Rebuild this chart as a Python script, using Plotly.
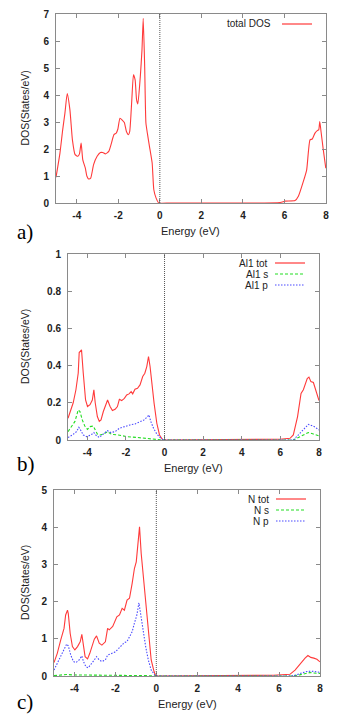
import plotly.graph_objects as go

W, H = 355, 721

# ---------------- data ----------------
x_tick_vals = [-4, -2, 0, 2, 4, 6, 8]
x_tick_text = ["-4", "-2", "0", "2", "4", "6", "8"]
y_ticks_a = [0, 1, 2, 3, 4, 5, 6, 7]
y_ticks_b = [0, 0.2, 0.4, 0.6, 0.8, 1.0]
y_ticks_b_text = ["0", "0.2", "0.4", "0.6", "0.8", "1"]
y_ticks_c = [0, 1, 2, 3, 4, 5]

# a) total DOS
energy_a = [-5.0, -4.81, -4.68, -4.57, -4.46, -4.33, -4.21, -4.08, -3.95, -3.87, -3.79, -3.71,
            -3.59, -3.51, -3.43, -3.33, -3.19, -3.02, -2.86, -2.75, -2.62, -2.46, -2.33, -2.21,
            -2.10, -2.02, -1.92, -1.80, -1.71, -1.61, -1.51, -1.45, -1.35, -1.27, -1.19, -1.12,
            -1.06, -0.94, -0.86, -0.80, -0.73, -0.67, -0.59, -0.50, -0.37, -0.29, -0.18, -0.05,
            0.5, 5.79, 6.03, 6.51, 6.67, 6.91, 7.07, 7.23, 7.34, 7.47, 7.58, 7.65, 7.70, 7.76,
            7.87, 7.99]
dos_total = [0.95, 1.85, 2.7, 3.33, 4.05, 3.45, 2.34, 1.79, 1.73, 1.82, 2.22, 1.6,
             1.3, 0.99, 0.89, 0.92, 1.42, 1.73, 1.87, 1.87, 1.82, 1.91, 2.22, 2.53,
             2.59, 2.74, 3.14, 3.06, 2.98, 2.65, 2.53, 2.65, 3.82, 4.75, 4.56, 3.82,
             3.67, 4.69, 5.67, 6.84, 5.05, 2.96, 2.53, 2.1, 1.48, 0.49, 0.18, 0.0,
             0.0, 0.02, 0.07, 0.09, 0.25, 0.8, 1.23, 2.34, 2.37, 2.59, 2.68, 2.71, 3.02, 2.65,
             1.97, 1.29]

# b) Al1
energy_al_tot = [-5.0, -4.87, -4.73, -4.59, -4.47, -4.42, -4.35, -4.30, -4.21, -4.09, -3.99,
                 -3.86, -3.74, -3.66, -3.59, -3.48, -3.38, -3.29, -3.17, -2.95, -2.82, -2.70,
                 -2.56, -2.44, -2.34, -2.22, -2.08, -1.96, -1.84, -1.73, -1.65, -1.53, -1.40,
                 -1.27, -1.13, -1.02, -0.92, -0.83, -0.75, -0.66, -0.54, -0.40, -0.26, -0.09,
                 5.98, 6.50, 6.67, 6.89, 7.07, 7.19, 7.27, 7.39, 7.48, 7.58, 7.71, 7.84, 8.0]
dos_al_tot = [0.117, 0.16, 0.2, 0.27, 0.36, 0.47, 0.476, 0.485, 0.36, 0.215, 0.18,
              0.19, 0.215, 0.27, 0.2, 0.126, 0.1, 0.108, 0.153, 0.215, 0.18, 0.158,
              0.165, 0.18, 0.219, 0.212, 0.224, 0.242, 0.248, 0.26, 0.248, 0.273, 0.278,
              0.296, 0.341, 0.359, 0.395, 0.449, 0.395, 0.305, 0.197, 0.09, 0.027, 0.0,
              0.004, 0.009, 0.027, 0.126, 0.25, 0.27, 0.29, 0.33, 0.338, 0.314, 0.309, 0.26, 0.212]
energy_al_s = [-5.0, -4.82, -4.64, -4.47, -4.38, -4.26, -4.13, -3.99, -3.86, -3.69, -3.60,
               -3.48, -3.34, -3.17, -2.95, -2.74, -2.39, -1.96, -1.44, -0.92, -0.57, -0.14,
               6.67, 7.01, 7.45, 7.71, 8.0]
dos_al_s = [0.045, 0.072, 0.1, 0.162, 0.153, 0.108, 0.075, 0.057, 0.072, 0.075, 0.057,
            0.032, 0.027, 0.032, 0.045, 0.03, 0.027, 0.018, 0.014, 0.009, 0.004, 0.0,
            0.0, 0.018, 0.04, 0.032, 0.022]
energy_al_p = [-5.0, -4.77, -4.56, -4.44, -4.35, -4.21, -4.04, -3.81, -3.66, -3.52, -3.38,
               -3.17, -2.96, -2.79, -2.56, -2.34, -2.08, -1.79, -1.53, -1.27, -1.06, -0.88,
               -0.81, -0.71, -0.57, -0.40, -0.19, -0.05, 6.67, 6.93, 7.19, 7.45, 7.71, 8.0]
dos_al_p = [0.013, 0.027, 0.045, 0.068, 0.054, 0.027, 0.018, 0.027, 0.04, 0.022, 0.014,
            0.03, 0.05, 0.04, 0.045, 0.063, 0.072, 0.081, 0.086, 0.099, 0.108, 0.126,
            0.135, 0.099, 0.063, 0.032, 0.009, 0.0, 0.0, 0.027, 0.057, 0.084, 0.075, 0.054]

# c) N
energy_n_tot = [-5.0, -4.84, -4.67, -4.51, -4.43, -4.34, -4.30, -4.21, -4.10, -3.98, -3.85,
                -3.72, -3.64, -3.57, -3.48, -3.36, -3.25, -3.03, -2.92, -2.79, -2.66, -2.49,
                -2.38, -2.30, -2.13, -1.93, -1.80, -1.67, -1.56, -1.43, -1.31, -1.18, -1.07,
                -0.98, -0.90, -0.82, -0.74, -0.62, -0.49, -0.36, -0.25, -0.11, -0.03,
                5.72, 6.53, 6.78, 7.02, 7.27, 7.41, 7.55, 7.7, 7.85, 8.0]
dos_n_tot = [0.36, 0.61, 0.97, 1.28, 1.64, 1.77, 1.67, 1.15, 0.79, 0.70, 0.79,
             0.92, 1.12, 0.79, 0.52, 0.46, 0.61, 0.99, 1.08, 0.88, 0.83, 0.92,
             1.28, 1.24, 1.33, 1.59, 1.64, 1.82, 1.77, 2.04, 2.09, 2.49, 2.89,
             3.07, 3.61, 4.01, 3.30, 2.58, 1.77, 0.97, 0.43, 0.12, 0.0,
             0.02, 0.045, 0.16, 0.33, 0.48, 0.55, 0.5, 0.48, 0.45, 0.38]
energy_n_s = [-5.0, -4.6, -4.4, -4.1, -3.6, -3.0, -2.0, -1.0, -0.5, 0.0, 6.7, 7.0, 7.5, 7.92, 8.0]
dos_n_s = [0.01, 0.03, 0.04, 0.03, 0.03, 0.02, 0.02, 0.015, 0.01, 0.0, 0.0, 0.03, 0.09, 0.07, 0.07]
energy_n_p = [-5.0, -4.84, -4.67, -4.51, -4.38, -4.30, -4.18, -4.05, -3.93, -3.77, -3.64,
              -3.56, -3.44, -3.33, -3.20, -3.03, -2.92, -2.79, -2.66, -2.49, -2.38, -2.21,
              -2.0, -1.84, -1.67, -1.56, -1.44, -1.31, -1.18, -1.07, -0.95, -0.85, -0.77,
              -0.66, -0.52, -0.39, -0.25, -0.08, 0.0, 6.6, 6.86, 7.1, 7.35, 7.59, 7.92, 8.0]
dos_n_p = [0.16, 0.34, 0.52, 0.74, 0.86, 0.81, 0.56, 0.39, 0.36, 0.43, 0.54,
           0.39, 0.25, 0.22, 0.30, 0.43, 0.52, 0.43, 0.39, 0.43, 0.56, 0.61,
           0.65, 0.74, 0.83, 0.90, 0.92, 1.06, 1.19, 1.42, 1.64, 1.97, 1.68,
           1.24, 0.79, 0.43, 0.16, 0.03, 0.0, 0.0, 0.03, 0.08, 0.12, 0.13, 0.1, 0.1]

# ---------------- styling ----------------
RED = "#ff3a3a"
GREEN = "#22dd22"
BLUE = "#4a4aff"
FONT = "Liberation Sans, Arial, sans-serif"
TXT = "#222222"


def px(x):
    return x / W


def py(y):
    return 1 - y / H


panels = [
    dict(l=56, r=326, t=14, b=203, yr=[0, 7], yt=y_ticks_a, ytt=[str(v) for v in y_ticks_a], lab="a)", laby=232),
    dict(l=68, r=319, t=254, b=440, yr=[0, 1], yt=y_ticks_b, ytt=y_ticks_b_text, lab="b)", laby=464),
    dict(l=54, r=320, t=490, b=676, yr=[0, 5], yt=y_ticks_c, ytt=[str(v) for v in y_ticks_c], lab="c)", laby=702),
]

series = [
    (1, energy_a, dos_total, "total DOS", RED, "solid", "spline"),
    (2, energy_al_tot, dos_al_tot, "Al1 tot", RED, "solid", "linear"),
    (2, energy_al_s, dos_al_s, "Al1 s", GREEN, "3px,2px", "linear"),
    (2, energy_al_p, dos_al_p, "Al1 p", BLUE, "1.5px,1.5px", "linear"),
    (3, energy_n_tot, dos_n_tot, "N tot", RED, "solid", "linear"),
    (3, energy_n_s, dos_n_s, "N s", GREEN, "3px,2px", "linear"),
    (3, energy_n_p, dos_n_p, "N p", BLUE, "1.5px,1.5px", "linear"),
]

fig = go.Figure()
for idx, xs, ys, name, color, dash, shape in series:
    suffix = "" if idx == 1 else str(idx)
    line = dict(color=color, width=1.1, dash=dash, shape=shape)
    if shape == "spline":
        line["smoothing"] = 0.5
    fig.add_trace(go.Scatter(
        x=xs, y=ys, name=name, mode="lines", line=line,
        xaxis="x" + suffix, yaxis="y" + suffix, showlegend=False,
    ))

layout = dict(
    width=W, height=H,
    margin=dict(l=0, r=0, t=0, b=0),
    paper_bgcolor="white", plot_bgcolor="white",
    showlegend=False,
    annotations=[], shapes=[],
)

for i, p in enumerate(panels, start=1):
    suffix = "" if i == 1 else str(i)
    common = dict(
        showline=True, linecolor="#8a8a8a", linewidth=1, mirror="ticks",
        ticks="inside", ticklen=4, tickcolor="#8a8a8a", tickwidth=1,
        showgrid=False, zeroline=False, automargin=False,
        tickfont=dict(family=FONT, size=10, color=TXT, weight="bold"),
    )
    layout["xaxis" + suffix] = dict(
        common, domain=[px(p["l"]), px(p["r"])], range=[-5, 8],
        tickvals=x_tick_vals, ticktext=x_tick_text,
        anchor="y" + suffix, ticklabelstandoff=3,
    )
    layout["yaxis" + suffix] = dict(
        common, domain=[py(p["b"]), py(p["t"])], range=p["yr"],
        tickvals=p["yt"], ticktext=p["ytt"],
        anchor="x" + suffix, ticklabelstandoff=4,
    )
    # Fermi level dotted line
    layout["shapes"].append(dict(
        type="line", xref="x" + suffix, yref="y" + suffix + " domain",
        x0=0, x1=0, y0=0, y1=1, line=dict(color="#555555", width=1, dash="1px,1px"),
    ))
    # axis titles
    layout["annotations"].append(dict(
        text="Energy (eV)", xref="paper", yref="paper",
        x=px((p["l"] + p["r"]) / 2), y=py(p["b"] + 28), showarrow=False,
        font=dict(family=FONT, size=11, color=TXT), xanchor="center", yanchor="middle",
    ))
    layout["annotations"].append(dict(
        text="DOS(States/eV)", xref="paper", yref="paper",
        x=px(25), y=py((p["t"] + p["b"]) / 2), showarrow=False, textangle=-90,
        font=dict(family=FONT, size=10.5, color=TXT), xanchor="center", yanchor="middle",
    ))
    # panel label
    layout["annotations"].append(dict(
        text=p["lab"], xref="paper", yref="paper",
        x=px(15), y=py(p["laby"]), showarrow=False,
        font=dict(family="Liberation Serif, Times New Roman, serif", size=21, color="black"),
        xanchor="left", yanchor="middle",
    ))

# manual gnuplot-style legends (text left of the sample line)
legend_rows = [
    ("total DOS", RED, "solid", 272, 282, 312, 24),
    ("Al1 tot", RED, "solid", 269, 275, 305, 263),
    ("Al1 s", GREEN, "3px,2px", 269, 275, 305, 274),
    ("Al1 p", BLUE, "1.5px,1.5px", 269, 275, 305, 285),
    ("N tot", RED, "solid", 270, 276, 306, 499),
    ("N s", GREEN, "3px,2px", 270, 276, 306, 510),
    ("N p", BLUE, "1.5px,1.5px", 270, 276, 306, 521),
]
for name, color, dash, tx, lx0, lx1, ly in legend_rows:
    layout["annotations"].append(dict(
        text=name, xref="paper", yref="paper", x=px(tx), y=py(ly), showarrow=False,
        xanchor="right", yanchor="middle", font=dict(family=FONT, size=10, color=TXT),
        borderpad=0,
    ))
    layout["shapes"].append(dict(
        type="line", xref="paper", yref="paper", x0=px(lx0), x1=px(lx1), y0=py(ly), y1=py(ly),
        line=dict(color=color, width=1.2, dash=dash),
    ))

fig.update_layout(**layout)
fig.write_html("out.html", config={"displayModeBar": False},
               post_script="document.body.style.margin='0px';")
